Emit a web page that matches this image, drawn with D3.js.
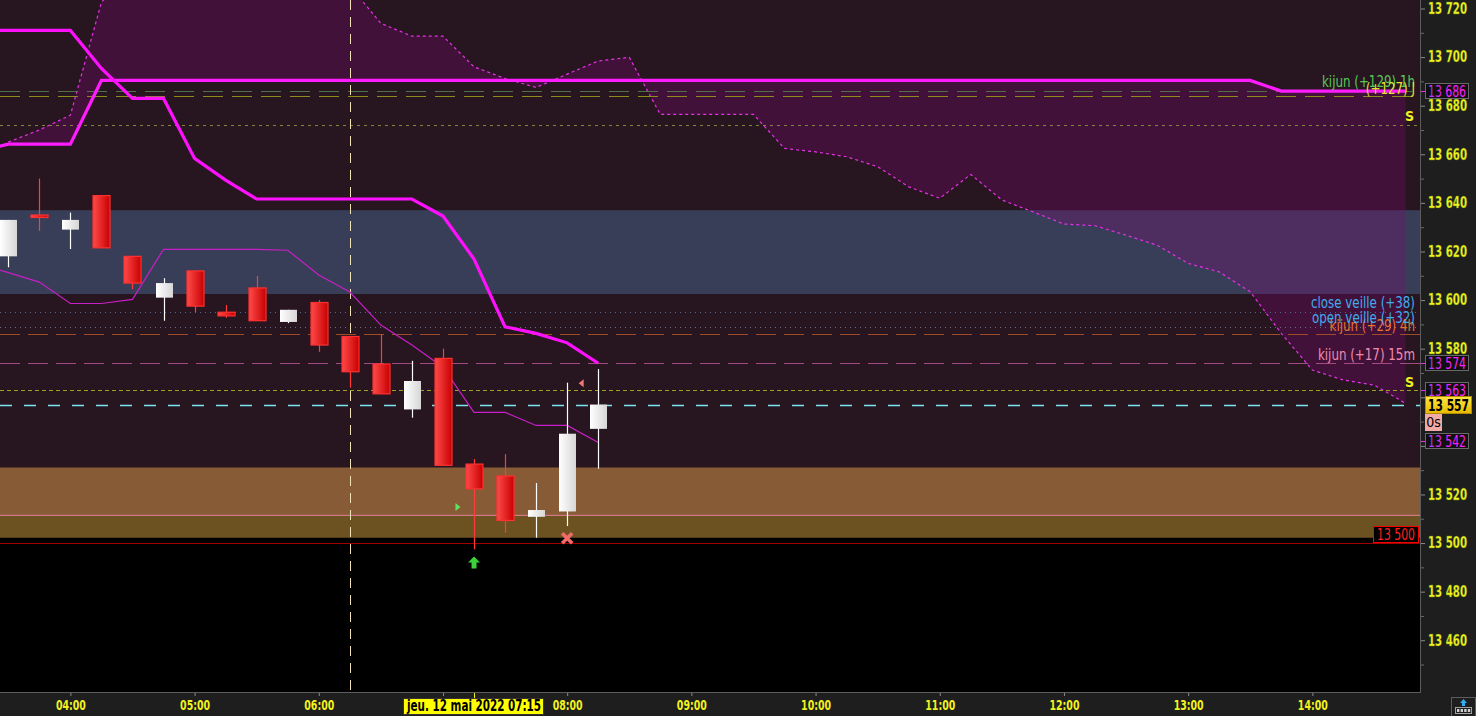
<!DOCTYPE html>
<html><head><meta charset="utf-8">
<script src="https://cdn.jsdelivr.net/npm/d3@7"></script>
<style>
html,body{margin:0;padding:0;background:#1e1e1e;overflow:hidden}
svg{display:block}
text{font-family:"Liberation Sans Narrow","Arial Narrow","DejaVu Sans Condensed",sans-serif}
</style></head><body><svg id="c" width="1476" height="716"></svg>
<script>
// ---------------- DATA ----------------
const candleTimes = ["03:30","03:45","04:00","04:15","04:30","04:45","05:00","05:15","05:30","05:45",
  "06:00","06:15","06:30","06:45","07:00","07:15","07:30","07:45","08:00","08:15"];
const opens  = [13618,13635,13629,13643,13618,13601,13612,13595,13605,13591,13599,13585,13573.7,13555,13576,13532.5,13527.6,13510.8,13513,13547];
const highs  = [13633,13650,13636,13643,13618,13609,13612,13598,13610,13596,13600,13585,13586,13575,13580,13534.6,13536.6,13524.7,13566,13571.6];
const lows   = [13613.5,13628.5,13621,13621.5,13604.5,13591.5,13595,13592.7,13591.5,13590.5,13578.7,13564,13561.4,13551.6,13532,13497.4,13504.2,13502.2,13507,13530.6];
const closes = [13633,13634,13633,13621.5,13607,13607,13597.5,13593.5,13591.5,13596,13581.5,13570.5,13561.4,13566.7,13532,13522.3,13509.3,13513.6,13545,13557];

const kijunTimes = ["03:15","03:30","03:45","04:00","04:15","04:30","04:45","05:00","05:15","05:30","05:45","06:00","06:15","06:30","06:45","07:00","07:15","07:30","07:45","08:00","08:15"];
const kijun15m   = [13711,13711,13711,13711,13695.3,13683,13683,13658.3,13649.4,13641.6,13641.6,13641.6,13641.6,13641.6,13641.6,13634.6,13616.9,13589,13586.3,13582.4,13574];
const tenkanVals = [13615.2,13611.3,13607.4,13598.6,13598.6,13600.3,13620.9,13620.9,13620.9,13620.9,13620.5,13610.3,13603.3,13589.7,13581.5,13572.4,13553.8,13553.8,13548.4,13548.4,13541.4];

const spanTimes = ["03:15","03:30","03:45","04:00","04:15","04:30","04:45","05:00","05:15","05:30","05:45","06:00","06:15","06:30","06:45","07:00","07:15","07:30","07:45","08:00","08:15","08:30","08:45","09:00","09:15","09:30","09:45","10:00","10:15","10:30","10:45","11:00","11:15","11:30","11:45","12:00","12:15","12:30","12:45","13:00","13:15","13:30","13:45","14:00","14:15","14:30","14:45"];
const spanA = [13657.5,13665,13670,13676.1,13722.6,13735,13740,13745,13745,13745,13742,13738,13729.3,13713.9,13708.6,13708.6,13696,13691.2,13687.5,13693,13698.4,13699.9,13676.4,13676.4,13676.4,13676.4,13662.4,13661,13659,13654.9,13646.6,13641.9,13651.7,13641.2,13636.3,13631.3,13630.6,13626.7,13622.6,13615.1,13611.6,13603.4,13586.3,13571.2,13567.1,13565,13557.5];
const spanB = [13661,13664.2,13664.2,13664.2,13690.4,13690.4,13690.4,13690.4,13690.4,13690.4,13690.4,13690.4,13690.4,13690.4,13690.4,13690.4,13690.4,13690.4,13690.4,13690.4,13690.4,13690.4,13690.4,13690.4,13690.4,13690.4,13690.4,13690.4,13690.4,13690.4,13690.4,13690.4,13690.4,13690.4,13690.4,13690.4,13690.4,13690.4,13690.4,13690.4,13690.4,13690.4,13686,13686,13686,13686,13686];

const zoneBlue  = [13602.5, 13637];
const zoneBrown = [13511.4, 13531.1];
const zoneOlive = [13502.2, 13511.4];
const pinkLineVal = 13511.4;
const supportVal = 13500;

const levelValues = [13686, 13684, 13672, 13595, 13589, 13586, 13574, 13563, 13557];
const levelNames  = ["kijun (+129) 1h","(+127) J","S","close veille (+38)","open veille (+32)","kijun (+29) 4h","kijun (+17) 15m","S",""];

const yTickValues = [13460,13480,13500,13520,13540,13560,13580,13600,13620,13640,13660,13680,13700,13720];
const yHiddenLabels = [13540,13560];
const xTickLabels = ["04:00","05:00","06:00","07:00","08:00","09:00","10:00","11:00","12:00","13:00","14:00"];
const cursorTime = "07:15";
const cursorLabel = "jeu. 12 mai 2022 07:15";
const vLineTime = "06:15";
const priceBoxes = [13686, 13574, 13563, 13542];
const lastPrice = 13557;

// markers
const arrowUp = {t:"07:15", v:13492};
const crossMark = {t:"08:00", v:13502};
const triRight = {t:"07:07", v:13514.8};
const triLeft = {t:"08:07", v:13565.8};

// ---------------- CHART ----------------
const T = s => { const [h,m] = s.split(":").map(Number); return new Date(2022,4,12,h,m); };
const W = 1420, H = 692;
const svg = d3.select("#c");
const x = d3.scaleTime().domain([T("03:26"), T("14:52")]).range([0, W]);
const y = d3.scaleLinear().domain([13438.7, 13723.5]).range([H, 0]);
const fmt = v => { const s = String(Math.round(v)); return s.slice(0, s.length-3) + " " + s.slice(-3); };
const condense = (sel, f) => sel.each(function(){
  const n = this; if(!n.textContent) return;
  const L = n.getComputedTextLength();
  d3.select(n).attr("textLength", L*f).attr("lengthAdjust","spacingAndGlyphs");
});
const fixLen = (sel, L) => sel.each(function(){
  if(!this.textContent) return;
  d3.select(this).attr("textLength", L).attr("lengthAdjust","spacingAndGlyphs");
});

const defs = svg.append("defs");
defs.append("clipPath").attr("id","clip").append("rect").attr("width",W).attr("height",H);
const gr = defs.append("linearGradient").attr("id","gRed");
gr.append("stop").attr("offset","0").attr("stop-color","#ff4a4a");
gr.append("stop").attr("offset","1").attr("stop-color","#c80000");
const gw = defs.append("linearGradient").attr("id","gWhite");
gw.append("stop").attr("offset","0").attr("stop-color","#ffffff");
gw.append("stop").attr("offset","1").attr("stop-color","#d6d6d6");
const gy = defs.append("linearGradient").attr("id","gYel").attr("x1",0).attr("y1",0).attr("x2",0).attr("y2",1);
gy.append("stop").attr("offset","0").attr("stop-color","#ffe840");
gy.append("stop").attr("offset","1").attr("stop-color","#e8b800");
const gm = defs.append("linearGradient").attr("id","gMag");
gm.append("stop").attr("offset","0").attr("stop-color","#a040ff");
gm.append("stop").attr("offset","0.5").attr("stop-color","#ff20ff");
gm.append("stop").attr("offset","1").attr("stop-color","#ff20ff");

// panels
svg.append("rect").attr("x",0).attr("y",0).attr("width",1476).attr("height",716).attr("fill","#1e1e1e");
const plot = svg.append("g").attr("clip-path","url(#clip)");
plot.append("rect").attr("width",W).attr("height",H).attr("fill","#271620");
plot.append("rect").attr("x",0).attr("y",y(zoneOlive[0])).attr("width",W).attr("height",H - y(zoneOlive[0])).attr("fill","#000");

// zones
plot.append("rect").attr("x",0).attr("y",y(zoneBlue[1])).attr("width",W).attr("height",y(zoneBlue[0])-y(zoneBlue[1])).attr("fill","#383e57");
plot.append("rect").attr("x",0).attr("y",y(zoneBrown[1])).attr("width",W).attr("height",y(zoneBrown[0])-y(zoneBrown[1])).attr("fill","#865b36");
plot.append("rect").attr("x",0).attr("y",y(zoneOlive[1])).attr("width",W).attr("height",y(zoneOlive[0])-y(zoneOlive[1])).attr("fill","#6c5220");

// cloud
const span = spanTimes.map((t,i)=>({t:T(t), a:spanA[i], b:spanB[i]}));
plot.append("path").datum(span)
  .attr("d", d3.area().x(d=>x(d.t)).y0(d=>y(d.b)).y1(d=>y(d.a)))
  .attr("fill","rgba(125,10,115,0.32)");
plot.append("path").datum(span)
  .attr("d", d3.line().x(d=>x(d.t)).y(d=>y(d.a)))
  .attr("fill","none").attr("stroke","#e830e8").attr("stroke-width",1.2).attr("stroke-dasharray","3,3");

// level lines
const levelStyles = [
  {c:"#4f7048", d:"20,9", w:1.2},
  {c:"#8e8a1c", d:"20,9", w:1.2},
  {c:"#85853a", d:"3,4", w:1},
  {c:"#4a6a90", d:"1,4", w:1.2},
  {c:"#6a6a82", d:"1,4", w:1.2},
  {c:"#a04c28", d:"20,8", w:1.2},
  {c:"#a44a84", d:"20,8", w:1.2},
  {c:"#a0a020", d:"4,3", w:1},
  {c:"#7ae6ef", d:"12,12", w:1.5}
];
levelValues.forEach((v,i)=>{
  plot.append("line").attr("x1",0).attr("x2",W).attr("y1",Math.round(y(v))+0.5).attr("y2",Math.round(y(v))+0.5)
    .attr("stroke",levelStyles[i].c).attr("stroke-width",levelStyles[i].w).attr("stroke-dasharray",levelStyles[i].d);
});
plot.append("line").attr("x1",0).attr("x2",W).attr("y1",y(pinkLineVal)).attr("y2",y(pinkLineVal)).attr("stroke","#e8849a").attr("stroke-width",1);
plot.append("line").attr("x1",0).attr("x2",W).attr("y1",Math.round(y(supportVal))+0.5).attr("y2",Math.round(y(supportVal))+0.5).attr("stroke","#a00000").attr("stroke-width",1);

// vertical dashed
plot.append("line").attr("x1",Math.round(x(T(vLineTime)))+0.5).attr("x2",Math.round(x(T(vLineTime)))+0.5).attr("y1",0).attr("y2",H)
  .attr("stroke","#f2e2b8").attr("stroke-width",1).attr("stroke-dasharray","10,7");

// span B bold line
plot.append("path").datum(span)
  .attr("d", d3.line().x(d=>x(d.t)).y(d=>y(d.b)))
  .attr("fill","none").attr("stroke","#ff1cff").attr("stroke-width",3.2);

// kijun 15m bold + tenkan
const kij = kijunTimes.map((t,i)=>({t:T(t), k:kijun15m[i], s:tenkanVals[i]}));
plot.append("path").datum(kij).attr("d", d3.line().x(d=>x(d.t)).y(d=>y(d.k)))
  .attr("fill","none").attr("stroke","#ff10ff").attr("stroke-width",3.2);
plot.append("path").datum(kij).attr("d", d3.line().x(d=>x(d.t)).y(d=>y(d.s)))
  .attr("fill","none").attr("stroke","#c81ec8").attr("stroke-width",1.2);

// candles
const cw = 17;
const candles = candleTimes.map((t,i)=>({t:T(t), o:opens[i], h:highs[i], l:lows[i], c:closes[i]}));
const cg = plot.append("g");
candles.forEach(d=>{
  const cx = Math.round(x(d.t));
  const up = d.c >= d.o;
  cg.append("line").attr("x1",cx+0.5).attr("x2",cx+0.5).attr("y1",y(d.h)).attr("y2",y(d.l))
    .attr("stroke", up ? "#ffffff" : "#ff3c3c").attr("stroke-width",1.2);
  const top = y(Math.max(d.o,d.c)), bot = y(Math.min(d.o,d.c));
  cg.append("rect").attr("x",cx - cw/2 + 0.5).attr("y",top).attr("width",cw).attr("height",Math.max(2,bot-top))
    .attr("fill", up ? "url(#gWhite)" : "url(#gRed)")
    .attr("stroke", up ? "#e8e8e8" : "#ff3030").attr("stroke-width", up ? 0 : 1.2);
});

// markers
{
  const ax = x(T(arrowUp.t)), ay = y(arrowUp.v);
  plot.append("path").attr("d",`M${ax},${ay-6} L${ax+6},${ay} L${ax+2.5},${ay} L${ax+2.5},${ay+6} L${ax-2.5},${ay+6} L${ax-2.5},${ay} L${ax-6},${ay} Z`).attr("fill","#3cd23c");
  const cx = x(T(crossMark.t)), cy = y(crossMark.v);
  plot.append("path").attr("d",`M${cx-5},${cy-5} L${cx+5},${cy+5} M${cx+5},${cy-5} L${cx-5},${cy+5}`).attr("stroke","#f26a6a").attr("stroke-width",3.5);
  const rx = x(T(triRight.t)), ry = y(triRight.v);
  plot.append("path").attr("d",`M${rx-2},${ry-4} L${rx+3},${ry} L${rx-2},${ry+4} Z`).attr("fill","#60e060");
  const lx = x(T(triLeft.t)), ly = y(triLeft.v);
  plot.append("path").attr("d",`M${lx+2},${ly-4} L${lx-3},${ly} L${lx+2},${ly+4} Z`).attr("fill","#f07878");
}

// level labels (right aligned)
const labelStyles = [
  {c:"#58c858", dy:-8},
  {c:"#e8e030", dy:-6},
  {c:"#f0f020", dy:-8},
  {c:"#40acec", dy:-8},
  {c:"#40acec", dy:-7.5},
  {c:"#e8742e", dy:-7},
  {c:"#ee8cae", dy:-7},
  {c:"#f0f020", dy:-7},
  {c:"#fff", dy:0}
];
const lblG = svg.append("g");
const labelOrder = [0,1,2,5,3,4,6,7];
labelOrder.forEach(i=>{
  if(!levelNames[i]) return;
  const isS = levelNames[i] === "S";
  const t = lblG.append("text").attr("x", isS ? 1414 : 1415).attr("y", y(levelValues[i]) + labelStyles[i].dy + 4)
    .attr("text-anchor","end").attr("font-size", isS ? 14 : 15).attr("font-weight", isS ? "bold" : "normal")
    .attr("fill", labelStyles[i].c).text(levelNames[i]);
  if(!isS) condense(t, 0.88);
});

// support box
{
  const sy = y(supportVal);
  svg.append("rect").attr("x",1373.5).attr("y",sy-16.5).attr("width",45).attr("height",16).attr("fill","#000").attr("stroke","#ff0000");
  const t = svg.append("text").attr("x",1396).attr("y",sy-3.5).attr("text-anchor","middle").attr("font-size",15).attr("fill","#ff2020").text(fmt(supportVal));
  fixLen(t, 38);
}

// frame lines
svg.append("line").attr("x1",W+0.5).attr("x2",W+0.5).attr("y1",0).attr("y2",H+1).attr("stroke","#5c5c5c");
svg.append("line").attr("x1",0).attr("x2",W+1).attr("y1",H+0.5).attr("y2",H+0.5).attr("stroke","#5c5c5c");

// y axis
const yAxis = svg.append("g").attr("transform",`translate(${W+1},0)`)
  .call(d3.axisRight(y).tickValues(yTickValues).tickSize(4).tickPadding(3)
    .tickFormat(v => yHiddenLabels.includes(v) ? "" : fmt(v)));
yAxis.select(".domain").remove();
yAxis.selectAll(".tick line").attr("stroke","#8a8a8a");
yAxis.selectAll(".tick text").attr("fill","#f2f21e").attr("font-size",15).attr("font-weight","bold")
  .attr("stroke","#5a8a10").attr("stroke-width",0.3)
  .style("font-family",'"Liberation Sans Narrow","Arial Narrow","DejaVu Sans Condensed",sans-serif');
fixLen(yAxis.selectAll(".tick text"), 39);
const minor = svg.append("g").attr("transform",`translate(${W+1},0)`)
  .call(d3.axisRight(y).tickValues(d3.range(13450,13730,20)).tickSize(3).tickFormat(""));
minor.select(".domain").remove();
minor.selectAll(".tick line").attr("stroke","#6a6a6a");

// price boxes on axis
priceBoxes.forEach(v=>{
  const py = Math.round(y(v));
  svg.append("line").attr("x1",W+1).attr("x2",W+5).attr("y1",py+0.5).attr("y2",py+0.5).attr("stroke","#ff20ff");
  svg.append("rect").attr("x",1425.5).attr("y",py-7.5).attr("width",43).attr("height",15).attr("fill","#101010").attr("stroke","#686868");
  const t = svg.append("text").attr("x",1447).attr("y",py+5.5).attr("text-anchor","middle").attr("font-size",15)
    .attr("fill","url(#gMag)").text(fmt(v));
  fixLen(t, 38);
});
{
  const py = Math.round(y(lastPrice));
  svg.append("rect").attr("x",1425.5).attr("y",py-8.5).attr("width",46).attr("height",17).attr("fill","url(#gYel)").attr("stroke","#b08a00");
  const t = svg.append("text").attr("x",1448.5).attr("y",py+5.5).attr("text-anchor","middle").attr("font-size",15.5).attr("font-weight","bold")
    .attr("fill","#000").text(fmt(lastPrice));
  fixLen(t, 41);
  svg.append("rect").attr("x",1425).attr("y",py+9).attr("width",17).attr("height",17).attr("fill","#f2aaa8");
  svg.append("text").attr("x",1433.5).attr("y",py+22).attr("text-anchor","middle").attr("font-size",14).attr("fill","#000").text("0s");
}

// x axis
const xAxis = svg.append("g").attr("transform",`translate(0,${H+1})`)
  .call(d3.axisBottom(x).tickValues(xTickLabels.map(T)).tickSize(3).tickPadding(4)
    .tickFormat(d => { const s = d3.timeFormat("%H:%M")(d); return s === "07:00" ? "" : s; }));
xAxis.select(".domain").remove();
xAxis.selectAll(".tick line").attr("stroke","#8a8a8a");
xAxis.selectAll(".tick text").attr("fill","#f2f21e").attr("font-size",14.5).attr("font-weight","bold")
  .style("font-family",'"Liberation Sans Narrow","Arial Narrow","DejaVu Sans Condensed",sans-serif');
fixLen(xAxis.selectAll(".tick text"), 30);

// cursor label
{
  const cx = x(T(cursorTime));
  const cgp = svg.append("g");
  const rect = cgp.append("rect");
  cgp.append("text").attr("x",cx).attr("y",H+19).attr("text-anchor","middle").attr("font-size",15).attr("font-weight","bold")
    .attr("fill","#000").text(cursorLabel).attr("textLength",134).attr("lengthAdjust","spacingAndGlyphs");
  rect.attr("x",cx-70.5).attr("y",H+6.5).attr("width",140).attr("height",16)
    .attr("fill","#ffff00").attr("stroke","#333");
  svg.append("line").attr("x1",Math.round(cx)+0.5).attr("x2",Math.round(cx)+0.5).attr("y1",H+1).attr("y2",H+6).attr("stroke","#f0f020");
}

// corner icon
{
  svg.append("rect").attr("x",1451.5).attr("y",697.5).attr("width",24).attr("height",19).attr("fill","#1e1e1e").attr("stroke","#5c5c5c");
  svg.append("rect").attr("x",1455.5).attr("y",707.5).attr("width",16).attr("height",6).attr("fill","none").attr("stroke","#a0a0a0");
  svg.append("path").attr("d","M1463.5,699 L1467,703 L1465,703 L1465,706 L1462,706 L1462,703 L1460,703 Z").attr("fill","#30b0f0");
  for(let i=0;i<4;i++) svg.append("rect").attr("x",1457+i*3.6).attr("y",709).attr("width",2.4).attr("height",3).attr("fill","#d0d0d0");
}
</script></body></html>
